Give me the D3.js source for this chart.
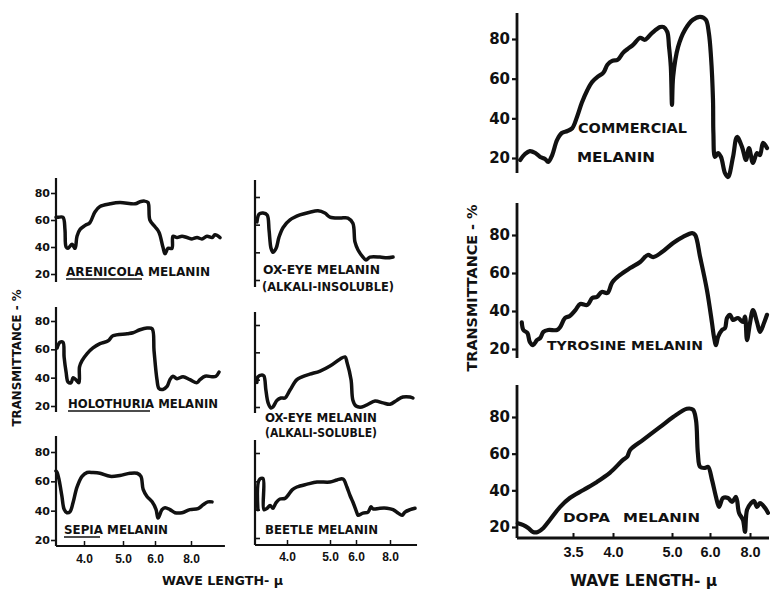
<!DOCTYPE html>
<html><head><meta charset="utf-8">
<script src="https://cdn.jsdelivr.net/npm/d3@7"></script>
<style>
html,body{margin:0;padding:0;background:#fff;}
svg text{font-family:"DejaVu Sans",sans-serif;font-weight:bold;fill:#111;}
</style></head><body>
<svg id="c" width="770" height="590"></svg>
<script>
// ---------- DATA (wavelength in micron, transmittance in %) ----------
const yTickValues = [20, 40, 60, 80];
const xTicksSmall = [4.0, 5.0, 6.0, 8.0];
const xTicksLarge = [3.5, 4.0, 5.0, 6.0, 8.0];

const arenicola = [[3.00,62],[3.07,62],[3.25,62],[3.32,53],[3.36,40],[3.43,39],[3.57,42],[3.68,39],[3.75,48],[3.86,53],[4.03,56],[4.15,58],[4.28,66],[4.41,70],[4.67,72],[4.92,73],[5.38,72],[5.53,73.5],[5.66,74],[5.78,73],[5.84,60],[6.00,55],[6.22,51],[6.44,40],[6.56,35],[6.72,39],[6.94,39],[7.00,48],[7.22,47],[7.50,48],[7.78,47],[8.05,46],[8.31,47],[8.56,46],[8.82,48],[9.08,47],[9.23,49],[9.49,47]];
const holothuria = [[3.04,61],[3.14,65],[3.25,65],[3.29,54.5],[3.36,44],[3.43,37],[3.54,36.5],[3.61,40],[3.71,38.6],[3.82,36.5],[3.84,47.6],[3.93,52],[4.08,57],[4.23,61],[4.41,64],[4.62,66],[4.74,69.6],[5.13,71],[5.31,71.7],[5.53,73.8],[5.75,75],[5.91,74.5],[5.97,59],[6.11,38.6],[6.22,32.4],[6.44,31.7],[6.67,33.8],[6.83,38.6],[7.00,41],[7.22,39.3],[7.56,40.7],[7.94,38.6],[8.31,36.5],[8.46,38.6],[8.72,41],[9.08,40.7],[9.28,41],[9.44,44]];
const sepia = [[3.00,67],[3.04,66],[3.11,61],[3.21,50],[3.29,41],[3.39,38.6],[3.50,39.3],[3.61,45.5],[3.75,56],[3.93,63.4],[4.08,66],[4.23,66],[4.41,65.5],[4.67,63.4],[4.92,64],[5.22,65.5],[5.44,65.5],[5.56,63.4],[5.63,54.5],[5.75,49.7],[5.91,46],[6.06,40.7],[6.17,35],[6.39,40.7],[6.56,42],[6.83,40.7],[7.11,38.6],[7.50,38.6],[7.94,40.7],[8.36,41.4],[8.62,44],[8.87,46],[9.08,46]];
const oxEyeInsoluble = [[3.06,62],[3.13,67.7],[3.25,68.4],[3.38,67],[3.44,56],[3.50,43],[3.56,40],[3.66,43],[3.75,51],[3.88,58],[4.07,63.4],[4.30,67],[4.53,69],[4.72,70],[4.88,68.4],[5.00,65.5],[5.38,64.8],[5.69,64.8],[5.88,61],[5.96,47.5],[6.12,41.7],[6.41,36.6],[6.59,34.5],[6.82,36.6],[7.41,36.6],[7.82,36],[8.18,36.6]];
const oxEyeSoluble = [[3.06,38],[3.09,42],[3.22,43.4],[3.28,42.7],[3.34,32.4],[3.41,23],[3.50,19.3],[3.56,20],[3.69,25],[3.81,26.6],[3.94,26.6],[4.07,32.4],[4.23,40],[4.35,42],[4.53,44],[4.77,46.3],[5.00,50],[5.38,55],[5.58,56.6],[5.65,53],[5.81,40],[5.88,25],[6.00,20.7],[6.35,20],[6.71,22],[7.12,24.4],[7.59,23],[8.00,22],[8.41,25],[8.76,27.3],[9.18,27.3],[9.35,26.6]];
const beetle = [[3.09,40],[3.13,61],[3.25,62],[3.28,40],[3.38,41],[3.47,43],[3.56,41],[3.66,45],[3.78,47.5],[3.94,48],[4.02,50],[4.12,54],[4.23,56],[4.47,58],[4.70,59.5],[5.00,59.5],[5.27,61],[5.50,61.6],[5.65,56],[5.77,50],[5.88,45.4],[6.06,37.6],[6.12,36],[6.41,37.6],[6.71,38.3],[6.88,42],[7.00,40.5],[7.41,41],[7.82,41],[8.18,40],[8.47,37.6],[8.71,36],[8.88,38.3],[9.18,40],[9.47,41]];
const commercial = [[2.84,19],[2.90,22],[2.96,23.5],[3.03,22.5],[3.09,20.5],[3.15,19.5],[3.19,18],[3.24,21.5],[3.30,29],[3.36,32.6],[3.43,33.6],[3.49,35],[3.55,40.7],[3.61,47.8],[3.68,54.3],[3.74,58.4],[3.81,61],[3.88,63],[3.93,67],[3.99,69],[4.08,69.5],[4.17,73],[4.25,75],[4.34,77],[4.46,80.6],[4.54,79.6],[4.66,83],[4.80,86],[4.86,86],[4.92,83.6],[4.95,76],[4.98,66],[5.0,46.8],[5.03,61],[5.16,76],[5.34,84.6],[5.55,89.7],[5.74,91.2],[5.89,89.7],[5.97,83],[6.05,71],[6.15,49.3],[6.17,32.6],[6.25,20.5],[6.40,22.5],[6.55,20.5],[6.75,12.4],[6.90,10.4],[7.15,20.5],[7.35,30.6],[7.60,25.6],[7.80,19],[7.95,25],[8.15,17.5],[8.35,22.5],[8.50,21.5],[8.65,27.6],[8.85,25]];
const tyrosine = [[2.86,34],[2.88,30],[2.93,28.4],[2.96,23.7],[3.00,22],[3.05,24.7],[3.09,25.8],[3.13,29],[3.19,30],[3.30,30],[3.34,31.6],[3.40,36.3],[3.46,37.4],[3.53,40.5],[3.59,43.7],[3.68,43.2],[3.74,46.8],[3.80,47.4],[3.86,50],[3.93,49.5],[3.99,55],[4.12,59],[4.29,62.6],[4.46,65.8],[4.59,69.5],[4.68,68.4],[4.83,71],[5.03,75.8],[5.29,79],[5.53,81],[5.61,80],[5.74,68.4],[5.92,51],[6.10,33.7],[6.20,26.3],[6.30,22],[6.40,26.3],[6.60,30],[6.75,31],[6.85,36.3],[7.00,38],[7.15,35.3],[7.40,36.3],[7.65,34.2],[7.75,37],[7.85,24.7],[8.00,33.7],[8.15,40.5],[8.35,34.2],[8.50,29],[8.70,33.7],[8.85,38]];
const dopa = [[2.81,22],[2.88,21],[2.94,19.5],[3.00,17.3],[3.06,17.3],[3.13,19.5],[3.21,23.8],[3.34,31],[3.46,35.8],[3.63,40.2],[3.80,44.6],[3.96,49.5],[4.17,56.6],[4.24,58.3],[4.29,62],[4.51,67.5],[4.80,74.6],[5.03,80],[5.39,84.5],[5.55,84],[5.63,78.5],[5.68,60.4],[5.74,52.8],[5.87,52.2],[5.95,52.8],[6.10,45.7],[6.30,36.4],[6.45,31],[6.65,35.8],[6.90,35.8],[7.10,33.7],[7.30,36.4],[7.45,27.7],[7.65,23.8],[7.75,17.3],[7.85,29.3],[8.05,33],[8.20,34.2],[8.35,31],[8.50,33],[8.75,30.4],[8.90,27.7]];

// ---------- LAYOUT ----------
const ink = "#111";
const svg = d3.select("#c");
svg.append("rect").attr("width",770).attr("height",590).attr("fill","#fff");

const xLeft  = d3.scaleLinear().domain([3.0,4.0,5.0,6.0,8.0,10.0]).range([56,84,123,155,191,230]);
const xMid   = d3.scaleLinear().domain([3.0,4.0,5.0,6.0,8.0,10.0]).range([255,287,330,356,390,424]);
const xRight = d3.scaleLinear().domain([2.8,4.0,5.0,6.0,8.0,9.0]).range([517,613,672,710,750,770]);

const panels = [
  {data:arenicola, x:xLeft, y20:274, y80:193, top:178, bottom:282, mode:"left",
   labels:[{text:"ARENICOLA MELANIN", x:66, y:276, w:144, fs:13, ul:[66,142]}]},
  {data:holothuria, x:xLeft, y20:406, y80:321, top:307, bottom:412, mode:"left",
   labels:[{text:"HOLOTHURIA MELANIN", x:68, y:408, w:150, fs:13, ul:[68,150]}]},
  {data:sepia, x:xLeft, y20:540, y80:452, top:436, bottom:546, mode:"left", xaxis:{ticks:xTicksSmall, end:9.74, pad:8, fs:12},
   labels:[{text:"SEPIA MELANIN", x:64, y:534, w:104, fs:13, ul:[64,100]}]},
  {data:oxEyeInsoluble, x:xMid, y20:280, y80:197, top:180, bottom:287, mode:"mid",
   labels:[{text:"OX-EYE MELANIN", x:263, y:274, w:117, fs:11.5},
           {text:"(ALKALI-INSOLUBLE)", x:262, y:291, w:132, fs:11.5}]},
  {data:oxEyeSoluble, x:xMid, y20:407, y80:325, top:312, bottom:413, mode:"mid",
   labels:[{text:"OX-EYE MELANIN", x:265, y:422, w:112, fs:11.5},
           {text:"(ALKALI-SOLUBLE)", x:265, y:437, w:112, fs:11.5}]},
  {data:beetle, x:xMid, y20:538, y80:453, top:440, bottom:545, mode:"mid", xaxis:{ticks:xTicksSmall, end:9.59, pad:7, fs:12},
   labels:[{text:"BEETLE MELANIN", x:265, y:534, w:113, fs:11.5}]},
  {data:commercial, x:xRight, y20:158, y80:39, top:13, bottom:173, mode:"right",
   labels:[{text:"COMMERCIAL", x:578, y:133, w:109, fs:13.5},
           {text:"MELANIN", x:577, y:162, w:78, fs:13.5}]},
  {data:tyrosine, x:xRight, y20:349, y80:235, top:203, bottom:358, mode:"right",
   labels:[{text:"TYROSINE MELANIN", x:547, y:350, w:156, fs:13}]},
  {data:dopa, x:xRight, y20:527, y80:417, top:385, bottom:538, mode:"right", xaxis:{ticks:xTicksLarge, end:8.95, pad:9, fs:14.5},
   labels:[{text:"DOPA", x:563, y:522, w:47, fs:13},
           {text:"MELANIN", x:623, y:522, w:77, fs:13}]}
];

panels.forEach(p => {
  const big = p.mode === "right";
  const y = d3.scaleLinear().domain([20,80]).range([p.y20, p.y80]);
  const x0 = p.x.range()[0];
  const g = svg.append("g");

  // y axis line
  g.append("line").attr("x1",x0).attr("x2",x0).attr("y1",p.top).attr("y2",p.bottom)
    .attr("stroke",ink).attr("stroke-width", big ? 2.8 : 2.2);

  // y ticks
  const ax = d3.axisLeft(y).tickValues(yTickValues)
    .tickSize(p.mode === "mid" ? -5 : 5)
    .tickPadding(p.mode === "right" ? 2 : 1)
    .tickFormat(p.mode === "mid" ? "" : d3.format("d"));
  const ga = g.append("g").attr("transform",`translate(${x0},0)`).call(ax);
  ga.select(".domain").remove();
  ga.selectAll(".tick line").attr("stroke",ink).attr("stroke-width", big ? 2.2 : 1.6);
  ga.selectAll(".tick text").style("font-size", big ? "15px" : "11px")
    .style("font-family","'DejaVu Sans',sans-serif").style("font-weight","bold").attr("fill",ink);

  // x axis
  if (p.xaxis) {
    const xa = p.xaxis;
    g.append("line").attr("x1",x0).attr("x2",p.x(xa.end)).attr("y1",p.bottom).attr("y2",p.bottom)
      .attr("stroke",ink).attr("stroke-width", big ? 2.8 : 2.2);
    const bx = d3.axisBottom(p.x).tickValues(xa.ticks).tickSize(-5).tickPadding(xa.pad)
      .tickFormat(d3.format(".1f"));
    const gb = g.append("g").attr("transform",`translate(0,${p.bottom})`).call(bx);
    gb.select(".domain").remove();
    gb.selectAll(".tick line").attr("stroke",ink).attr("stroke-width", big ? 2 : 1.5);
    gb.selectAll(".tick text").style("font-size", xa.fs + "px")
      .style("font-family","'Liberation Sans',Arial,sans-serif").style("font-weight","bold")
      .attr("fill",ink);
  }

  // curve
  const line = d3.line().x(d => p.x(d[0])).y(d => y(d[1])).curve(d3.curveCatmullRom.alpha(0.5));
  g.append("path").datum(p.data).attr("d", line).attr("fill","none").attr("stroke",ink)
    .attr("stroke-width", big ? 4.2 : 3.5).attr("stroke-linejoin","round").attr("stroke-linecap","round");

  // labels
  p.labels.forEach(l => {
    g.append("text").attr("x", l.x).attr("y", l.y).style("font-size", l.fs + "px")
      .attr("textLength", l.w).attr("lengthAdjust","spacingAndGlyphs").text(l.text);
    if (l.ul) {
      g.append("line").attr("x1", l.ul[0]).attr("x2", l.ul[1]).attr("y1", l.y + 3).attr("y2", l.y + 3)
        .attr("stroke", ink).attr("stroke-width", 1.4);
    }
  });
});

// axis titles
svg.append("text").attr("transform","translate(21,358) rotate(-90)").attr("text-anchor","middle")
  .style("font-size","11.5px").attr("textLength",137).attr("lengthAdjust","spacingAndGlyphs")
  .text("TRANSMITTANCE - %");
svg.append("text").attr("transform","translate(477,288) rotate(-90)").attr("text-anchor","middle")
  .style("font-size","14px").attr("textLength",167).attr("lengthAdjust","spacingAndGlyphs")
  .text("TRANSMITTANCE - %");
svg.append("text").attr("x",162).attr("y",585).style("font-size","13px")
  .attr("textLength",121).attr("lengthAdjust","spacingAndGlyphs").text("WAVE LENGTH- μ");
svg.append("text").attr("x",570).attr("y",586).style("font-size","15px")
  .attr("textLength",147).attr("lengthAdjust","spacingAndGlyphs").text("WAVE LENGTH- μ");
</script>
</body></html>
